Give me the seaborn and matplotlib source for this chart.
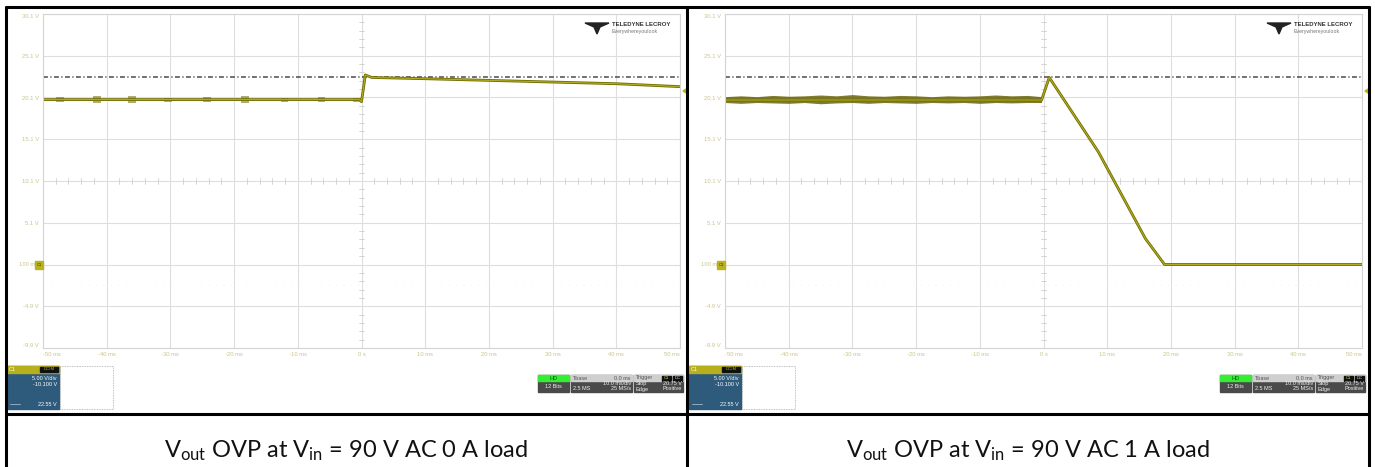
import matplotlib
matplotlib.use("Agg")
import matplotlib.pyplot as plt
import seaborn as sns
import pandas as pd
from matplotlib.patches import Rectangle, Polygon
from matplotlib.lines import Line2D

# ---------------- data ----------------
x_ticks_ms = [-50, -40, -30, -20, -10, 0, 10, 20, 30, 40, 50]
x_tick_labels = ["-50 ms", "-40 ms", "-30 ms", "-20 ms", "-10 ms", "0 s",
                 "10 ms", "20 ms", "30 ms", "40 ms", "50 ms"]
y_ticks_v = [30.1, 25.1, 20.1, 15.1, 10.1, 5.1, 0.1, -4.9, -9.9]
y_tick_labels = ["30.1 V", "25.1 V", "20.1 V", "15.1 V", "10.1 V", "5.1 V",
                 "100 mV", "-4.9 V", "-9.9 V"]
trigger_level_v = 22.55

# left scope: 0 A load
t_left = [-50, -0.3, 0.0, 0.6, 1.6, 10, 20, 30, 40, 50]
v_left = [19.85, 19.85, 19.6, 22.8, 22.5, 22.35, 22.15, 21.95, 21.75, 21.4]
burst_t_left = [-47.3, -41.5, -36.0, -30.4, -24.3, -18.3, -12.1, -6.3, -0.8]
burst_lo_left = [19.55, 19.5, 19.5, 19.6, 19.55, 19.5, 19.6, 19.55, 19.6]
burst_hi_left = [20.15, 20.25, 20.25, 20.1, 20.2, 20.25, 20.1, 20.2, 20.1]

# right scope: 1 A load
t_right = [-50, -0.3, 0.9, 8.6, 16.0, 19.0, 50]
v_right = [19.8, 19.8, 22.5, 13.6, 3.2, 0.1, 0.1]
noise_t_right = [-50, -47.5, -45, -42.5, -40, -37.5, -35, -32.5, -30, -27.5, -25,
                 -22.5, -20, -17.5, -15, -12.5, -10, -7.5, -5, -2.5, -0.3]
noise_hi_right = [20.2, 20.3, 20.2, 20.35, 20.25, 20.3, 20.4, 20.3, 20.45, 20.3, 20.25,
                  20.35, 20.3, 20.2, 20.3, 20.25, 20.3, 20.4, 20.3, 20.35, 20.2]
noise_lo_right = [19.5, 19.4, 19.5, 19.45, 19.4, 19.5, 19.35, 19.45, 19.5, 19.4, 19.5,
                  19.45, 19.4, 19.5, 19.45, 19.5, 19.4, 19.5, 19.45, 19.5, 19.5]

captions = [r"V$_{\mathrm{out}}$ OVP at V$_{\mathrm{in}}$ = 90 V AC 0 A load",
            r"V$_{\mathrm{out}}$ OVP at V$_{\mathrm{in}}$ = 90 V AC 1 A load"]

# ---------------- style ----------------
sns.set_style("white")
plt.rcParams["font.family"] = ["Liberation Sans", "DejaVu Sans"]
plt.rcParams["mathtext.fontset"] = "custom"
plt.rcParams["mathtext.rm"] = "Lato"
plt.rcParams["mathtext.it"] = "Lato:italic"

W, H = 1375, 467
fig = plt.figure(figsize=(W / 100, H / 100), dpi=100)

TRACE_DARK = "#6f6b00"
TRACE = "#b3ad1e"
TICK_COL = "#cbc48a"
GRID_COL = "#dedede"


def rect(x0, y0, x1, y1, **kw):
    fig.add_artist(Rectangle((x0 / W, 1 - y1 / H), (x1 - x0) / W, (y1 - y0) / H,
                             transform=fig.transFigure, **kw))


def ftext(x, y, s, **kw):
    kw.setdefault("zorder", 12)
    fig.text(x / W, 1 - y / H, s, **kw)


def fline(x0, y0, x1, y1, **kw):
    fig.add_artist(Line2D([x0 / W, x1 / W], [1 - y0 / H, 1 - y1 / H],
                          transform=fig.transFigure, **kw))


def scope(dx, t, v, noise_kind, nt, nlo, nhi, caption):
    ax = fig.add_axes([(43 + dx) / W, 1 - 348 / H, 637 / W, 334 / H])
    ax.set_xlim(-50, 50)
    ax.set_ylim(-9.9, 30.1)
    for s in ax.spines.values():
        s.set_color("#d4d4d4")
        s.set_linewidth(0.8)
    ax.set_xticks(x_ticks_ms)
    ax.set_xticklabels(x_tick_labels)
    ax.set_yticks(y_ticks_v)
    ax.set_yticklabels(y_tick_labels)
    ax.tick_params(axis="both", length=0, labelsize=4.2, colors=TICK_COL, pad=3)
    xl = ax.get_xticklabels()
    xl[0].set_ha("left")
    xl[-1].set_ha("right")
    yl = ax.get_yticklabels()
    yl[0].set_va("top")
    yl[-1].set_va("bottom")
    ax.grid(True, color=GRID_COL, linewidth=0.8)
    # minor ticks on center axes
    for k in range(-25, 26):
        tx = 2.0 * k
        if k % 5 != 0:
            ax.plot([tx, tx], [10.1 - 0.3, 10.1 + 0.3], color="#cfcfcf", lw=0.6)
    for k in range(41):
        vy = -9.9 + k
        if k % 5 != 0:
            ax.plot([-0.45, 0.45], [vy, vy], color="#cfcfcf", lw=0.6)
    ax.plot([-50, 50], [-2.4, -2.4], color="#ececec", lw=0.6, ls=(0, (1, 8)))
    # trigger level
    ax.axhline(trigger_level_v, color="#4a4a4a", lw=1.1, ls=(0, (3.2, 1.6, 0.8, 1.6)))
    # noise
    if noise_kind == "bursts":
        for bt, lo, hi in zip(nt, nlo, nhi):
            ax.fill_between([bt - 0.6, bt + 0.6], [lo, lo], [hi, hi],
                            color=TRACE_DARK, alpha=0.55, lw=0)
    else:
        ax.fill_between(nt, nlo, nhi, color="#5e5a00", alpha=0.8, lw=0)
    df = pd.DataFrame({"t": t, "v": v})
    sns.lineplot(data=df, x="t", y="v", ax=ax, color=TRACE_DARK, lw=2.0,
                 estimator=None, sort=False)
    sns.lineplot(data=df, x="t", y="v", ax=ax, color=TRACE, lw=0.8,
                 estimator=None, sort=False)
    ax.set_xlabel("")
    ax.set_ylabel("")

    # channel marker at 0.1 V and trigger marker at right
    rect(35 + dx, 261, 43 + dx, 269, color="#b9b21c", zorder=5)
    ftext(39 + dx, 265, "C1", fontsize=3, color="#333300", ha="center", va="center")
    fig.add_artist(Polygon([((683 + dx) / W, 1 - 91 / H), ((686 + dx) / W, 1 - 89 / H),
                            ((686 + dx) / W, 1 - 93 / H)], closed=True,
                           transform=fig.transFigure, color="#b9b21c"))

    # logo
    lx = 585 + dx
    fig.add_artist(Polygon([((lx) / W, 1 - 23 / H), ((lx + 24) / W, 1 - 23 / H),
                            ((lx + 15) / W, 1 - 27 / H), ((lx + 12) / W, 1 - 34 / H),
                            ((lx + 9) / W, 1 - 27 / H)], closed=True,
                           transform=fig.transFigure, color="#222222"))
    ftext(lx + 27, 25, "TELEDYNE LECROY", fontsize=4.3, color="#333333",
          fontweight="bold", va="center", ha="left")
    ftext(lx + 27, 31, "Everywhereyoulook", fontsize=3.8, color="#777777",
          va="center", ha="left")

    # C1 box
    rect(7 + dx, 366, 59 + dx, 409, color="#2e5a7c", zorder=4)
    rect(7 + dx, 366, 59 + dx, 373, color="#b7b01c", zorder=5)
    rect(40 + dx, 367, 58 + dx, 372, color="#111111", zorder=6)
    ftext(9 + dx, 369.5, "C1", fontsize=4, color="#ffffff", va="center")
    ftext(49 + dx, 369.5, "DCIM", fontsize=3.2, color="#b7b01c", va="center", ha="center")
    ftext(57 + dx, 379, "5.00 V/div", fontsize=4, color="#ffffff", va="center", ha="right")
    ftext(57 + dx, 385, "-10.100 V", fontsize=4, color="#ffffff", va="center", ha="right")
    ftext(57 + dx, 404, "22.55 V", fontsize=4, color="#ffffff", va="center", ha="right")
    fline(10 + dx, 404, 20 + dx, 404, color="#9fb8cc", lw=0.6, zorder=6)
    rect(60 + dx, 366, 113 + dx, 409, fill=False, ec="#aaaaaa", lw=0.6,
         ls=(0, (1, 1)), zorder=4)

    # HD / Tbase / Trigger boxes
    rect(538 + dx, 375, 569 + dx, 392, color="#4a4a4a", zorder=4)
    rect(538 + dx, 375, 569 + dx, 381, color="#33ee33", zorder=5)
    ftext(553.5 + dx, 378, "HD", fontsize=4, color="#115511", ha="center", va="center")
    ftext(553.5 + dx, 386.5, "12 Bits", fontsize=4, color="#eeeeee", ha="center", va="center")
    rect(571 + dx, 375, 632 + dx, 392, color="#4a4a4a", zorder=4)
    rect(571 + dx, 375, 632 + dx, 381, color="#cfcfcf", zorder=5)
    ftext(573 + dx, 378, "Tbase", fontsize=4, color="#555555", va="center")
    ftext(631 + dx, 378, "0.0 ms", fontsize=4, color="#555555", va="center", ha="right")
    ftext(631 + dx, 383.5, "10.0 ms/div", fontsize=4, color="#eeeeee", va="center", ha="right")
    ftext(573 + dx, 389, "2.5 MS", fontsize=4, color="#eeeeee", va="center")
    ftext(631 + dx, 389, "25 MS/s", fontsize=4, color="#eeeeee", va="center", ha="right")
    rect(634 + dx, 375, 683 + dx, 392, color="#4a4a4a", zorder=4)
    rect(634 + dx, 375, 683 + dx, 381, color="#cfcfcf", zorder=5)
    rect(662 + dx, 376, 671 + dx, 380.5, color="#111111", zorder=6)
    rect(673 + dx, 376, 682 + dx, 380.5, color="#111111", zorder=6)
    ftext(636 + dx, 378, "Trigger", fontsize=4, color="#555555", va="center")
    ftext(666.5 + dx, 378.3, "C1", fontsize=3, color="#dddd88", va="center", ha="center")
    ftext(677.5 + dx, 378.3, "DC", fontsize=3, color="#dddddd", va="center", ha="center")
    ftext(636 + dx, 383.5, "Stop", fontsize=4, color="#eeeeee", va="center")
    ftext(682 + dx, 383.5, "20.75 V", fontsize=4, color="#eeeeee", va="center", ha="right")
    ftext(636 + dx, 389, "Edge", fontsize=4, color="#eeeeee", va="center")
    ftext(682 + dx, 389, "Positive", fontsize=4, color="#eeeeee", va="center", ha="right")

    # caption
    ftext(346 + dx, 457, caption, fontsize=17, color="#111111", ha="center",
          va="baseline", family="Lato")


scope(0, t_left, v_left, "bursts", burst_t_left, burst_lo_left, burst_hi_left, captions[0])
scope(682, t_right, v_right, "band", noise_t_right, noise_lo_right, noise_hi_right, captions[1])

# table borders
for (x0, y0, x1, y1) in [(6, 7, 1369, 7), (6, 414, 1369, 414),
                         (6, 7, 6, 467), (687, 7, 687, 467), (1369, 7, 1369, 467)]:
    fline(x0, y0, x1, y1, color="#000000", lw=2.2, zorder=20)

fig.savefig("out.png", dpi=100, facecolor="white")
